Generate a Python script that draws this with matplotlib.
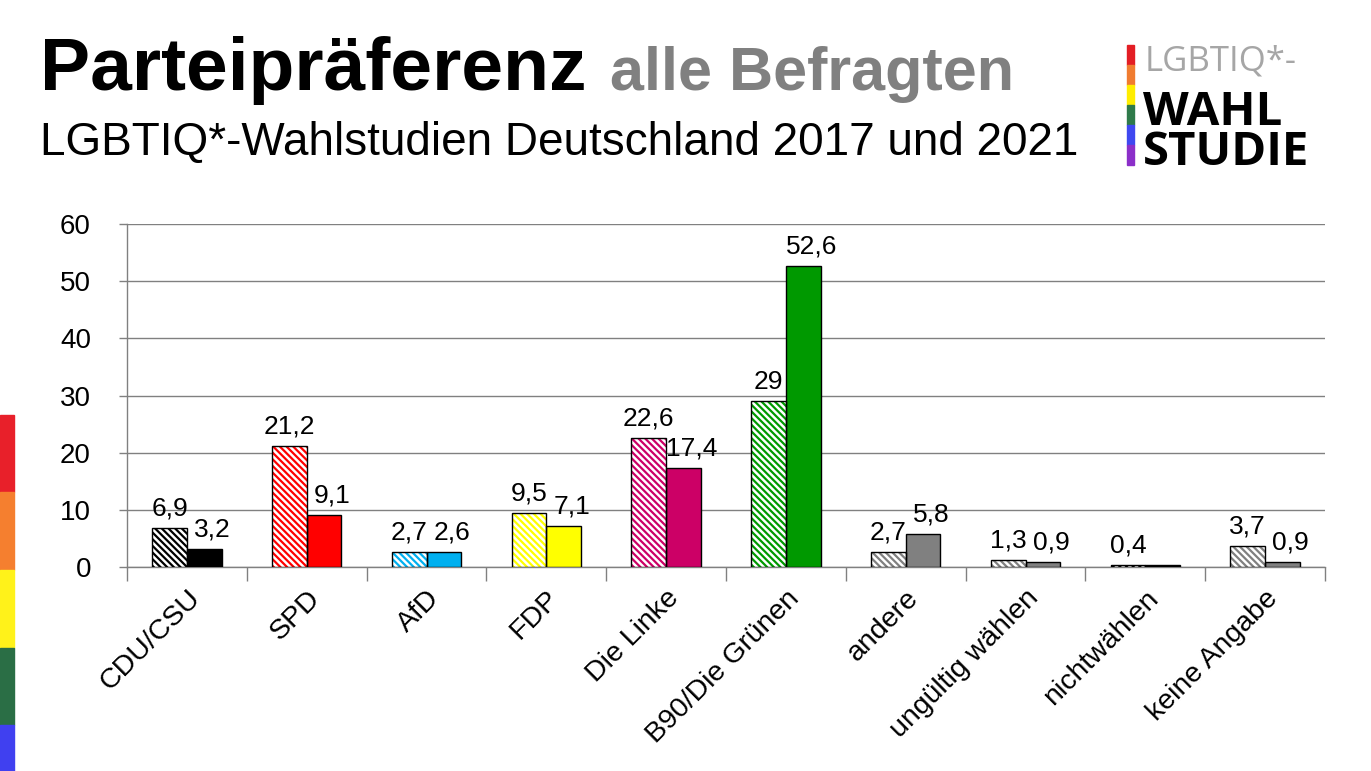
import matplotlib
matplotlib.use("Agg")
import matplotlib.pyplot as plt
from matplotlib.patches import Rectangle
import numpy as np

categories = ["CDU/CSU", "SPD", "AfD", "FDP", "Die Linke", "B90/Die Grünen",
              "andere", "ungültig wählen", "nichtwählen", "keine Angabe"]
values_2017 = [6.9, 21.2, 2.7, 9.5, 22.6, 29.0, 2.7, 1.3, 0.4, 3.7]
values_2021 = [3.2, 9.1, 2.6, 7.1, 17.4, 52.6, 5.8, 0.9, 0.4, 0.9]
labels_2021_shown = [True, True, True, True, True, True, True, True, False, True]
colors = ["#000000", "#FF0000", "#00B0F0", "#FFFF00", "#CC0066", "#009900",
          "#808080", "#808080", "#000000", "#808080"]
yticks = [0, 10, 20, 30, 40, 50, 60]

plt.rcParams['font.family'] = ['Liberation Sans', 'DejaVu Sans']
plt.rcParams['hatch.linewidth'] = 1.6

W, H = 1371, 771
fig = plt.figure(figsize=(W / 100, H / 100), dpi=100)
fig.patch.set_facecolor("white")

def fx(px):
    return px / W

def fy(py):
    return 1 - py / H

ax = fig.add_axes([fx(127), fy(567), fx(1325) - fx(127), fy(224) - fy(567)])

x = np.arange(len(categories))
bw = 0.29

def fmt(v):
    return f"{v:g}".replace(".", ",")

# 2017 hatched bars
ax.bar(x - bw / 2, values_2017, bw, facecolor="white", edgecolor=colors,
       hatch="\\\\\\\\\\", linewidth=0, zorder=3)
ax.bar(x - bw / 2, values_2017, bw, fill=False, edgecolor="black",
       linewidth=1.0, zorder=4)
# 2021 solid bars
ax.bar(x + bw / 2, values_2021, bw, color=colors, edgecolor="black",
       linewidth=1.0, zorder=3)

for xi, v in zip(x, values_2017):
    ax.annotate(fmt(v), (xi - bw / 2, v), xytext=(0, 9), textcoords="offset points",
                ha="center", va="baseline", fontsize=19, zorder=5)
for xi, v, show in zip(x, values_2021, labels_2021_shown):
    if show:
        ax.annotate(fmt(v), (xi + bw / 2 + 0.07, v), xytext=(0, 9),
                    textcoords="offset points", ha="center", va="baseline",
                    fontsize=19, zorder=5)

ax.set_xlim(-0.5, len(categories) - 0.5)
ax.set_ylim(0, 60)
ax.set_yticks(yticks)
ax.set_yticklabels([str(t) for t in yticks], fontsize=20)
ax.yaxis.grid(True, color="#808080", linewidth=1.0, zorder=0)
ax.set_axisbelow(True)

ax.set_xticks(np.arange(len(categories) + 1) - 0.5)
ax.set_xticklabels([])
ax.set_xticks(x, minor=True)
ax.set_xticklabels(categories, minor=True, rotation=45, ha="right",
                   rotation_mode="anchor", fontsize=20.5)
ax.tick_params(axis="x", which="minor", length=0, pad=13)
ax.tick_params(axis="x", which="major", length=10, color="#808080", width=1)
ax.tick_params(axis="y", length=6, color="#808080", width=1, pad=20)

for s in ["top", "right"]:
    ax.spines[s].set_visible(False)
for s in ["left", "bottom"]:
    ax.spines[s].set_color("#808080")
    ax.spines[s].set_linewidth(1.0)

# Titles
t1 = fig.text(fx(40), fy(90), "Parteipräferenz", fontsize=54, fontweight="bold",
              color="black", va="baseline", ha="left")
fig.canvas.draw()
bb = t1.get_window_extent()
fig.text(bb.x1 / W + fx(24), fy(90), "alle Befragten", fontsize=44,
         fontweight="bold", color="#808080", va="baseline", ha="left")
fig.text(fx(40), fy(155), "LGBTIQ*-Wahlstudien Deutschland 2017 und 2021",
         fontsize=33, color="black", va="baseline", ha="left")

# Logo
logo_cols = ["#E31E24", "#F07C30", "#FFED00", "#2F7A4A", "#3F48F0", "#8B2FC9"]
for i, c in enumerate(logo_cols):
    fig.patches.append(Rectangle((fx(1127), fy(45 + 20 * (i + 1))), fx(7), 20 / H,
                                 transform=fig.transFigure, color=c, zorder=1))
fig.text(fx(1145), fy(70), "LGBTIQ*-", fontsize=25, color="#A6A6A6",
         va="baseline", ha="left", family=["Open Sans", "DejaVu Sans"])
fig.text(fx(1143), fy(165), "WAHL\nSTUDIE", fontsize=34, fontweight="bold",
         color="black", va="baseline", ha="left", linespacing=0.8,
         family=["Open Sans", "DejaVu Sans"])

# Left rainbow strip
strip = [("#E8202A", 415, 492), ("#F57F2F", 492, 570), ("#FFF21A", 570, 648),
         ("#2A6E45", 648, 725), ("#4040F0", 725, 771)]
for c, y0, y1 in strip:
    fig.patches.append(Rectangle((0, fy(y1)), fx(14), (y1 - y0) / H,
                                 transform=fig.transFigure, color=c, zorder=1))

fig.savefig("out.png", dpi=100, facecolor="white")
